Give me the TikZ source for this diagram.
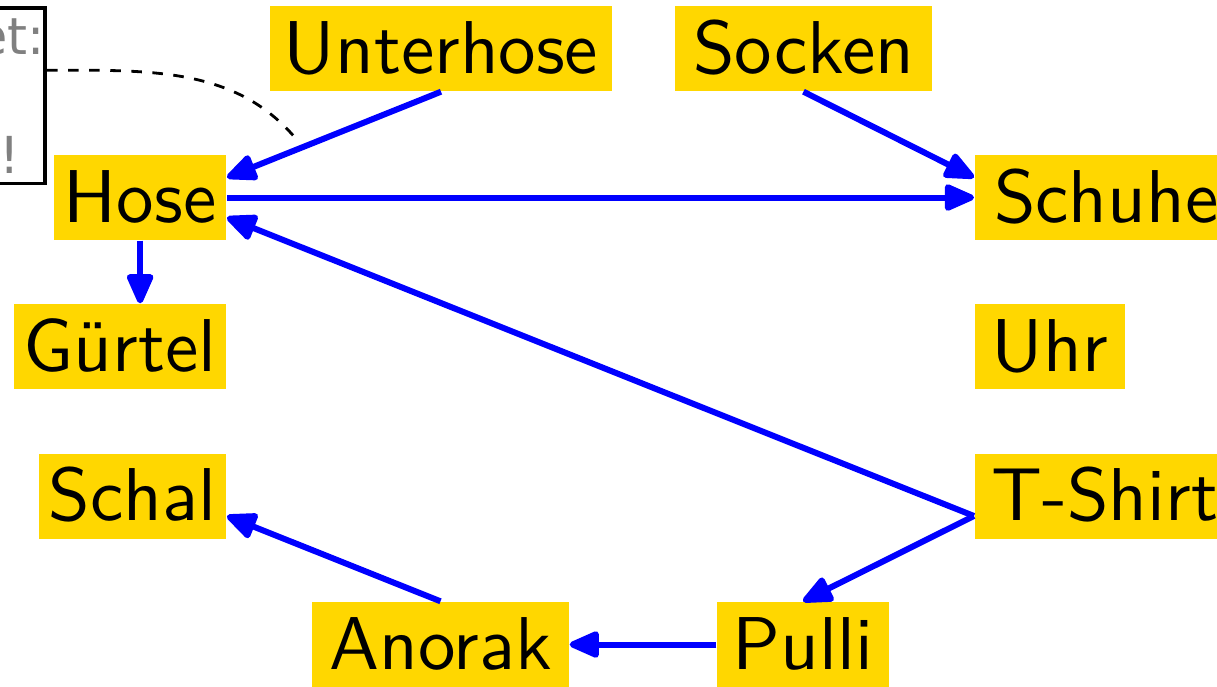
\documentclass[tikz,border=0pt]{standalone}
\usepackage{fontspec}
\usepackage{xcolor}
\usepackage{tikz}
\usetikzlibrary{arrows.meta}
\newfontfamily\itemfont{lmsans10-regular.otf}
\newfontfamily\notefont{DejaVu Sans}
\definecolor{itembg}{RGB}{255, 215, 0}

\begin{document}
\begin{tikzpicture}[
    item/.style={fill=itembg, inner xsep=0.1cm, inner ysep=0.12cm, text height=0.55cm, text depth=0.06cm, font=\itemfont\fontsize{21.3}{25}\selectfont},
    dep/.style={blue, line width=0.06cm, -{Triangle[length=0.34cm, width=0.28cm, round]}},
    hint/.style={draw, line width=1.1pt, text=gray, inner xsep=0pt, inner ysep=0pt, align=right, minimum height=1.755cm, font=\notefont\fontsize{14.5}{17.4}\selectfont}]
  \useasboundingbox (0,0) rectangle (12.17,-6.86);

  % Kleidungsstuecke
  \node[item, minimum width=3.42cm] (unterhose) at (4.41,-0.485) {Unterhose};
  \node[item, minimum width=2.57cm] (socken) at (8.035,-0.485) {Socken};
  \node[item, anchor=east] (hose) at (2.27,-1.975) {Hose};
  \node[item, anchor=east] (guertel) at (2.27,-3.465) {Gürtel};
  \node[item, anchor=east] (schal) at (2.27,-4.96) {Schal};
  \node[item, anchor=west, minimum width=2.63cm] (schuhe) at (9.74,-1.975) {Schuhe};
  \node[item, anchor=west, minimum width=1.5cm] (uhr) at (9.74,-3.465) {Uhr};
  \node[item, anchor=west, minimum width=2.6cm] (tshirt) at (9.74,-4.96) {T-Shirt};
  \node[item, minimum width=2.57cm] (anorak) at (4.405,-6.445) {Anorak};
  \node[item, minimum width=1.72cm] (pulli) at (8.03,-6.445) {Pulli};

  % Abhaengigkeiten
  \draw[dep] (unterhose.south) -- coordinate[pos=0.645] (uh) ([yshift=0.2cm]hose.east);
  \draw[dep] (socken.south) -- ([yshift=0.2cm]schuhe.west);
  \draw[dep] (hose.east) -- (schuhe.west);
  \draw[dep] (hose.south) -- (hose.south |- guertel.north);
  \draw[dep] ([yshift=-0.2cm]tshirt.west) -- ([yshift=-0.2cm]hose.east);
  \draw[dep] ([yshift=-0.2cm]tshirt.west) -- (pulli.north);
  \draw[dep] (pulli.west) -- (anorak.east);
  \draw[dep] (anorak.north) -- ([yshift=-0.2cm]schal.east);

  % Hinweis
  \node[hint, anchor=north east] (note) at (0.47,-0.06) {et:\\[0.578cm]!\hspace*{0.256cm}};
  \draw[dashed, thick, shorten >=0.1cm] ([yshift=0.255cm]note.east) to[out=0, in=130] (uh);
\end{tikzpicture}
\end{document}
